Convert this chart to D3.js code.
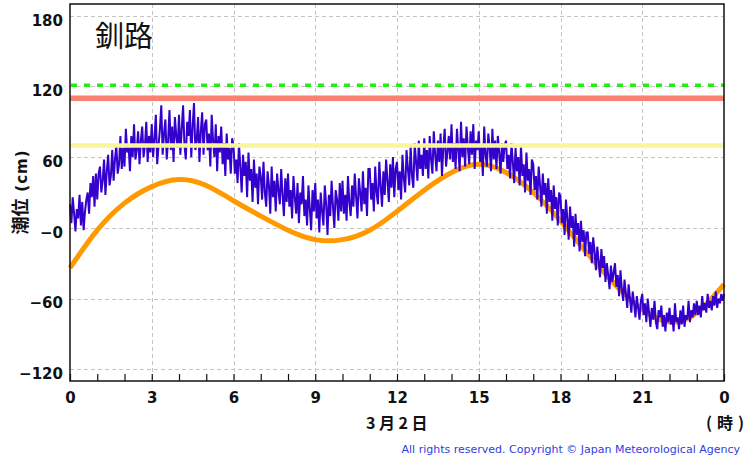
<!DOCTYPE html>
<html>
<head>
<meta charset="utf-8">
<script src="https://cdn.jsdelivr.net/npm/d3@7"></script>
<style>
  html, body { margin: 0; padding: 0; background: #fff; }
  svg { display: block; }
</style>
</head>
<body>
<svg id="chart" width="746" height="458"></svg>
<script>
// ---- data ----
const stationName = "釧路";
const dateLabel = "3月2日";
const hourUnitParts = ["(", "時", ")"];
const yAxisTitleJa = "潮位";
const yAxisTitleUnit = "(cm)";
const copyrightText = "All rights reserved. Copyright © Japan Meteorological Agency";

// hour ticks (every hour) and their labels (every 3 hours)
const hourTicks = [0,1,2,3,4,5,6,7,8,9,10,11,12,13,14,15,16,17,18,19,20,21,22,23,24];
const xLabelHours = [0,3,6,9,12,15,18,21,24];
const xTickLabels = ["0","3","6","9","12","15","18","21","0"];

const yTicks = [180,120,60,0,-60,-120];
const yTickLabels = ["180","120","60","−0","−60","−120"];

// reference levels (cm)
const levelGreen = 121;
const levelRed = 110;
const levelYellow = 70;

// astronomical tide, hourly (cm)
const astroHours = [0,1,2,3,4,5,6,7,8,9,10,11,12,13,14,15,16,17,18,19,20,21,22,23,24];
const astroTide = [-34,-2,21,35,41,36,23,10,-2,-10,-10,-2,14,32,47,54,47,30,6,-22,-48,-69,-80,-72,-48];

// observed tide, 3-minute values (cm), one row per hour
const obsStepMin = 3;
const observed = [
  20,4,26,12,-3,16,8,28,2,22,-2,14,24,30,12,38,26,44,18,46,
  24,46,52,30,40,58,28,48,62,36,44,66,40,58,70,46,54,78,50,68,
  52,84,64,70,48,78,60,88,58,66,82,54,74,86,60,70,90,56,78,64,
  88,60,76,96,54,70,84,104,62,80,92,58,74,100,66,86,56,94,78,68,
  96,62,84,104,70,58,90,78,100,60,86,106,66,74,94,56,82,98,62,88,
  92,66,80,52,96,74,60,88,48,78,64,86,54,72,44,80,58,68,46,76,
  70,46,58,38,72,52,30,62,44,56,26,64,40,50,22,58,34,46,20,52,
  44,24,56,30,18,48,36,12,52,26,40,14,46,32,20,50,28,10,42,22,
  46,18,32,8,44,26,12,38,4,30,20,44,10,24,2,36,16,-2,32,14,
  38,8,24,-4,30,14,2,36,20,-6,28,10,40,18,0,32,24,6,38,14,
  40,12,28,6,44,22,10,36,18,46,26,8,42,30,14,48,20,34,10,50,
  50,24,38,14,52,30,20,56,36,18,48,28,58,40,22,54,34,60,26,50,
  56,32,48,24,62,42,30,66,50,36,70,44,34,72,56,40,74,50,62,44,
  76,50,66,42,78,58,46,82,62,48,74,56,80,44,68,84,52,64,78,58,
  88,56,72,50,84,66,48,90,60,76,52,86,68,54,82,62,88,50,74,66,
  82,56,70,44,86,62,52,80,68,48,84,58,74,50,78,64,46,72,56,70,
  74,50,62,42,72,56,38,68,48,60,36,70,44,54,30,64,40,50,28,58,
  54,32,44,24,52,36,18,46,28,38,12,42,22,32,6,36,16,26,2,30,
  26,4,16,-6,24,8,-10,18,0,10,-16,12,-6,4,-20,6,-12,-2,-24,-4,
  -4,-22,-12,-30,-8,-20,-36,-16,-28,-42,-18,-34,-24,-46,-30,-40,-52,-32,-46,-38,
  -30,-50,-40,-58,-36,-52,-62,-44,-56,-68,-48,-60,-72,-54,-64,-76,-58,-68,-78,-62,
  -56,-74,-64,-80,-60,-72,-84,-68,-78,-62,-80,-86,-70,-76,-66,-84,-74,-88,-72,-80,
  -68,-82,-74,-88,-64,-80,-76,-86,-70,-82,-66,-84,-74,-78,-62,-80,-70,-76,-64,-74,
  -62,-74,-66,-76,-58,-70,-64,-72,-56,-68,-62,-70,-58,-66,-54,-68,-60,-64,-56,-62,
  -56
];

// ---- layout ----
const svg = d3.select("#chart");
const plot = { left: 70, right: 724, top: 4, bottom: 381 };

const x = d3.scaleLinear().domain([0, 24]).range([plot.left, plot.right]);
const y = d3.scaleLinear().domain([-130, 190]).range([plot.bottom, plot.top]);

const tickFont = "'DejaVu Sans', Verdana, sans-serif";
const cjkFont = "'Noto Sans CJK JP', 'Noto Sans', sans-serif";

// grid
const grid = svg.append("g")
  .attr("stroke", "#c4c4c4")
  .attr("stroke-width", 1)
  .attr("stroke-dasharray", "4,3")
  .attr("shape-rendering", "crispEdges");

grid.selectAll("line.h").data(yTicks).join("line")
  .attr("class", "h")
  .attr("x1", plot.left).attr("x2", plot.right)
  .attr("y1", d => Math.round(y(d)) + 0.5).attr("y2", d => Math.round(y(d)) + 0.5);

grid.selectAll("line.v").data(xLabelHours.filter(h => h > 0 && h < 24)).join("line")
  .attr("class", "v")
  .attr("x1", d => Math.round(x(d)) + 0.5).attr("x2", d => Math.round(x(d)) + 0.5)
  .attr("y1", plot.top).attr("y2", plot.bottom);

// astronomical tide
svg.append("path")
  .datum(astroHours.map((h, i) => [h, astroTide[i]]))
  .attr("fill", "none")
  .attr("stroke", "#ff9900")
  .attr("stroke-width", 5)
  .attr("stroke-linejoin", "round")
  .attr("d", d3.line().x(d => x(d[0])).y(d => y(d[1])).curve(d3.curveNatural));

// observed tide
svg.append("path")
  .datum(observed.map((v, i) => [i * obsStepMin / 60, v]))
  .attr("fill", "none")
  .attr("stroke", "#3300cc")
  .attr("stroke-width", 2)
  .attr("stroke-linejoin", "miter")
  .attr("d", d3.line().x(d => x(d[0])).y(d => y(d[1])));

// reference levels
svg.append("line")
  .attr("x1", plot.left).attr("x2", plot.right)
  .attr("y1", y(levelYellow)).attr("y2", y(levelYellow))
  .attr("stroke", "#f8f59c").attr("stroke-width", 4.5);

svg.append("line")
  .attr("x1", plot.left).attr("x2", plot.right)
  .attr("y1", y(levelRed)).attr("y2", y(levelRed))
  .attr("stroke", "#fa8070").attr("stroke-width", 5.5);

svg.append("line")
  .attr("x1", plot.left + 1).attr("x2", plot.right)
  .attr("y1", y(levelGreen)).attr("y2", y(levelGreen))
  .attr("stroke", "#22ee11").attr("stroke-width", 3.5)
  .attr("stroke-dasharray", "6,7");

// frame
svg.append("rect")
  .attr("x", plot.left).attr("y", plot.top)
  .attr("width", plot.right - plot.left).attr("height", plot.bottom - plot.top)
  .attr("fill", "none").attr("stroke", "#111").attr("stroke-width", 1.5);

// x axis
const xAxis = d3.axisBottom(x)
  .tickValues(hourTicks)
  .tickSize(-7)
  .tickPadding(11)
  .tickFormat(h => {
    const k = xLabelHours.indexOf(h);
    return k >= 0 ? xTickLabels[k] : "";
  });

const gx = svg.append("g")
  .attr("transform", `translate(0,${plot.bottom})`)
  .call(xAxis);
gx.select(".domain").remove();
gx.selectAll(".tick line").attr("stroke", "#111").attr("stroke-width", 1.2);
gx.selectAll(".tick text")
  .attr("fill", "#111")
  .style("font-family", tickFont)
  .style("font-weight", "bold")
  .style("font-size", "15px");

// y axis
const yAxis = d3.axisLeft(y)
  .tickValues(yTicks)
  .tickSize(0)
  .tickPadding(7)
  .tickFormat(v => yTickLabels[yTicks.indexOf(v)]);

const gy = svg.append("g")
  .attr("transform", `translate(${plot.left},0)`)
  .call(yAxis);
gy.select(".domain").remove();
gy.selectAll(".tick text")
  .attr("y", 4.5)
  .attr("fill", "#111")
  .style("font-family", tickFont)
  .style("font-weight", "bold")
  .style("font-size", "15px");

// station name
svg.append("text")
  .attr("x", 95).attr("y", 47)
  .style("font-family", cjkFont)
  .style("font-size", "29px")
  .attr("fill", "#111")
  .text(stationName);

// y-axis title (rotated)
const yTitle = svg.append("text")
  .attr("transform", "translate(27,192) rotate(-90)")
  .attr("text-anchor", "middle")
  .attr("fill", "#111")
  .style("font-weight", "bold");
yTitle.append("tspan")
  .style("font-family", cjkFont)
  .style("font-size", "18px")
  .text(yAxisTitleJa);
yTitle.append("tspan")
  .attr("dx", 7)
  .style("font-family", tickFont)
  .style("font-size", "15px")
  .style("letter-spacing", "1px")
  .text(yAxisTitleUnit);

// date label
svg.append("text")
  .attr("x", x(12) + 1.5).attr("y", 429)
  .attr("text-anchor", "middle")
  .style("font-family", cjkFont)
  .style("font-weight", "bold")
  .style("font-size", "16px")
  .style("letter-spacing", "3.5px")
  .attr("fill", "#111")
  .text(dateLabel);

// hour unit label
const unitX = [709, 725, 741];
svg.append("text")
  .attr("y", 429)
  .attr("text-anchor", "middle")
  .style("font-family", cjkFont)
  .style("font-weight", "bold")
  .style("font-size", "16px")
  .attr("fill", "#111")
  .selectAll("tspan").data(hourUnitParts).join("tspan")
  .attr("x", (d, i) => unitX[i])
  .text(d => d);

// copyright
svg.append("text")
  .attr("x", 740).attr("y", 453)
  .attr("text-anchor", "end")
  .style("font-family", tickFont)
  .style("font-size", "11px")
  .attr("fill", "#3040e0")
  .text(copyrightText);
</script>
</body>
</html>
